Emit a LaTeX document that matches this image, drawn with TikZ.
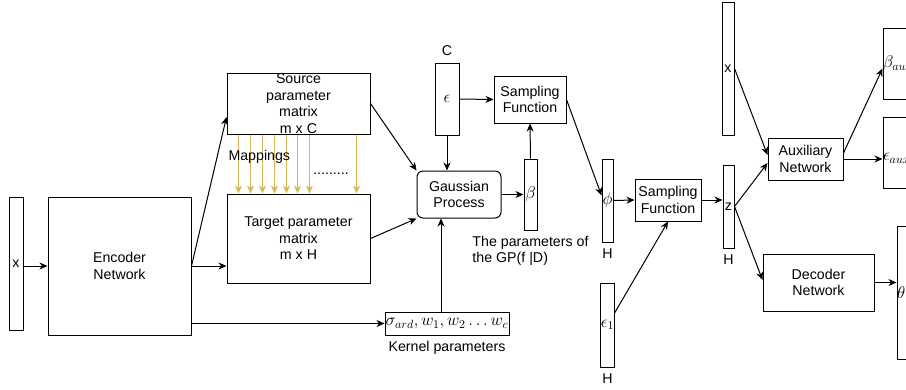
\RequirePackage{fix-cm}
\documentclass[tikz,border=0pt]{standalone}
\usepackage{fontspec}
\setmainfont{Liberation Sans}
\usepackage{tikz}
\usetikzlibrary{arrows,arrows.meta}
\usetikzlibrary{positioning}
\definecolor{mapgold}{HTML}{D6B656}

\begin{document}
\begin{tikzpicture}[x=1pt,y=-1pt,>={Stealth[length=8pt,width=7pt,inset=2.5pt]},line width=1pt,
    font=\fontsize{14.2}{16.5}\selectfont,
    box/.style={draw,align=center,inner sep=0pt},
    vec/.style={draw,inner sep=0pt},
    mlbl/.style={font=\fontsize{17}{19}\selectfont},
    hlbl/.style={inner sep=1pt,label distance=5pt,font=\fontsize{14.2}{16.5}\selectfont},
    maparrow/.style={->,draw=mapgold,line width=1.2pt}]
    \useasboundingbox (0,0) rectangle (906,389);
    \clip (0,0) rectangle (906,389);

    % encoder and the two parameter matrices
    \node (xin) [vec,minimum width=14pt,minimum height=133pt] at (16,263.5) {x};
    \node (enc) [box,minimum width=143pt,minimum height=138pt] at (119.5,266) {Encoder\\Network};
    \node (src) [box,minimum width=143pt,minimum height=61pt] at (298.5,103.5) {Source\\parameter\\matrix\\m x C};
    \node (tgt) [box,minimum width=143pt,minimum height=89pt] at (298.5,238.5) {Target parameter\\matrix\\m x H};
    \node (dots) [anchor=base,inner sep=0pt] at (331,174) {.........};

    % gaussian process part
    \node (eps) [vec,mlbl,minimum width=24pt,minimum height=72pt,label={[hlbl]above:C}] at (447,99) {$\epsilon$};
    \node (gp) [box,rounded corners=6pt,minimum width=84pt,minimum height=47pt] at (459,194.5) {Gaussian\\Process};
    \node (samp1) [box,minimum width=72pt,minimum height=47pt] at (530,99.5) {Sampling\\Function};
    \node (beta) [vec,mlbl,minimum width=13pt,minimum height=71pt] at (530.5,194.5) {$\beta$};
    \node (gplbl) [below=5pt of beta,align=left,inner sep=0pt] {The parameters of\\the GP(f |D)};
    \node (kern) [vec,mlbl,minimum width=124pt,minimum height=23pt,label={[hlbl,inner sep=0pt]below:Kernel parameters}] at (447,323.5) {$\sigma_{ard}, w_1, w_2 \ldots w_c$};

    % sampling of z
    \node (phi) [vec,mlbl,minimum width=11pt,minimum height=83pt,label={[hlbl]below:H}] at (607.5,200.5) {$\phi$};
    \node (eps1) [vec,mlbl,minimum width=11pt,minimum height=84pt,label={[hlbl]below:H}] at (607.5,325) {$\epsilon_1$};
    \node (samp2) [box,minimum width=66pt,minimum height=42pt] at (668,200) {Sampling\\Function};
    \node (z) [vec,minimum width=11pt,minimum height=83pt,label={[hlbl]below:H}] at (728.5,206.5) {z};

    % auxiliary and decoder networks
    \node (xr) [vec,minimum width=12pt,minimum height=133pt] at (728,68.5) {x};
    \node (aux) [box,minimum width=75pt,minimum height=42pt] at (805.5,159) {Auxiliary\\Network};
    \node (dec) [box,minimum width=111pt,minimum height=57pt] at (818.5,282.5) {Decoder\\Network};
    \node (betaaux) [vec,minimum width=60pt,minimum height=71pt] at (913,63.5) {};
    \node (epsaux) [vec,minimum width=60pt,minimum height=71pt] at (913,152.5) {};
    \node (theta) [vec,minimum width=60pt,minimum height=133pt] at (927,292.5) {};
    \node (betaauxlbl) [mlbl,anchor=west,inner sep=0pt] at (betaaux.west) {$\beta_{aux}$};
    \node (epsauxlbl) [mlbl,anchor=west,inner sep=0pt] at ([yshift=-6pt]epsaux.west) {$\epsilon_{aux}$};
    \node (thetalbl) [mlbl,anchor=west,inner sep=0pt] at (theta.west) {$\theta$};

    \foreach \d in {12,24,36,48,60,71,83,130}
        \draw [maparrow] ([xshift=\d pt]src.south west) -- ([xshift=\d pt]tgt.north west);
    \node (maps) [anchor=west,inner sep=0pt] at (228,157) {Mappings};

    \path [->] (enc.west -| xin.east) edge (enc.west);
    \path [->] (enc.east) edge ([yshift=-13.5pt]src.west);
    \path [->] (enc.east) edge (enc.east -| tgt.west);
    \path [->] (kern.west -| enc.east) edge (kern.west);
    \path [->] (src.east) edge (gp.north west);
    \path [->] (tgt.east) edge (gp.south west);
    \path [->] ([xshift=-6pt]kern.north) edge ([xshift=-6pt]kern.north |- gp.south);
    \path [->] (eps.south) edge (eps.south |- gp.north);
    \path [->] (eps.east) edge (samp1.west);
    \path [->] (gp.east) edge (beta.west);
    \path [->] (beta.north) edge (samp1.south);
    \path [->] (samp1.east) edge ([yshift=5pt]phi.west);
    \path [->] (phi.east) edge (samp2.west);
    \path [->] ([yshift=12pt]eps1.east) edge (samp2.south);
    \path [->] (samp2.east) edge (samp2.east -| z.west);
    \path [->] (xr.east) edge ([yshift=4pt]aux.west);
    \path [->] (z.east) edge ([yshift=-4pt]aux.west);
    \path [->] (z.east) edge ([yshift=2.5pt]dec.west);
    \path [->] ([yshift=6pt]aux.east) edge ([yshift=-5pt]betaaux.west);
    \path [->] (aux.east) edge (aux.east -| epsaux.west);
    \path [->] (dec.east) edge (dec.east -| theta.west);
\end{tikzpicture}
\end{document}
